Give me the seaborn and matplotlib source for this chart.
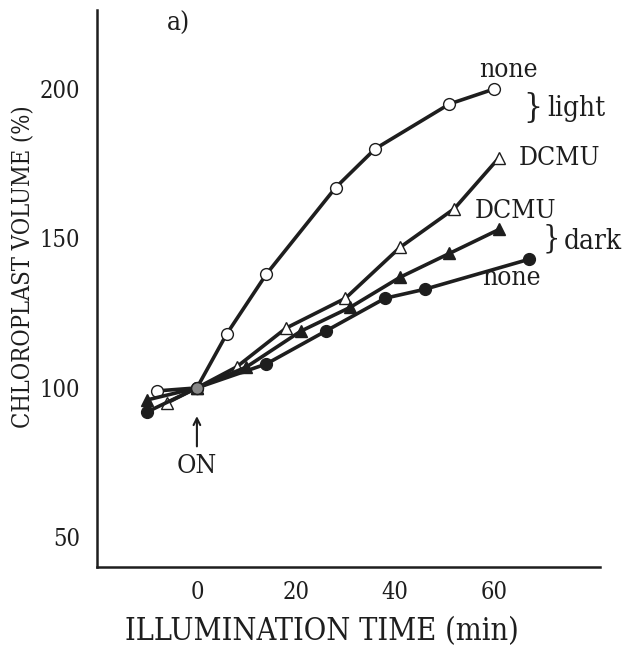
import matplotlib
matplotlib.use("Agg")
import matplotlib.pyplot as plt
import seaborn as sns
import pandas as pd

# ---- data ----
light_none_t = [-8, 0, 6, 14, 28, 36, 51, 60]
light_none_v = [99, 100, 118, 138, 167, 180, 195, 200]
light_dcmu_t = [-6, 0, 8, 18, 30, 41, 52, 61]
light_dcmu_v = [95, 100, 107, 120, 130, 147, 160, 177]
dark_dcmu_t = [-10, 0, 10, 21, 31, 41, 51, 61]
dark_dcmu_v = [96, 100, 107, 119, 127, 137, 145, 153]
dark_none_t = [-10, 0, 14, 26, 38, 46, 67]
dark_none_v = [92, 100, 108, 119, 130, 133, 143]

x_ticks = [0, 20, 40, 60]
x_minor = [10, 30, 50, 70]
y_ticks = [50, 100, 150, 200]

sns.set_theme(style="white")
plt.rcParams['font.family'] = ['DejaVu Serif']
plt.rcParams['font.stretch'] = 'condensed'

ink = "#1e1e1e"
fig = plt.figure(figsize=(6.25, 6.55), dpi=100)
ax = fig.add_axes([0.155, 0.134, 0.805, 0.851])

series = [
    (light_none_t, light_none_v, 'o', 'white'),
    (light_dcmu_t, light_dcmu_v, '^', 'white'),
    (dark_dcmu_t, dark_dcmu_v, '^', ink),
    (dark_none_t, dark_none_v, 'o', ink),
]
for t, v, m, fc in series:
    df = pd.DataFrame({'t': t, 'v': v})
    sns.lineplot(data=df, x='t', y='v', ax=ax, sort=False, color=ink,
                 linewidth=2.6, marker=m, markersize=8.5,
                 markerfacecolor=fc, markeredgecolor=ink, markeredgewidth=1.0)

# centre point: open circle with dot
ax.plot([0], [100], marker='o', markersize=8.5, markerfacecolor='#888888',
        markeredgecolor=ink, zorder=5)

ax.set_xlim(-20.2, 81.4)
ax.set_ylim(40, 226.5)
for s in ['top', 'right']:
    ax.spines[s].set_visible(False)
for s in ['left', 'bottom']:
    ax.spines[s].set_color(ink)
    ax.spines[s].set_linewidth(1.8)

ax.set_xticks(x_ticks)
ax.set_xticks(x_minor, minor=True)
ax.set_yticks(y_ticks)
ax.tick_params(axis='both', which='both', direction='in', length=7, width=1.5,
               colors=ink, labelsize=17, pad=10)
ax.tick_params(axis='y', pad=12)
ax.tick_params(axis='x', which='minor', labelbottom=False)

ax.set_xlabel("ILLUMINATION TIME (min)", fontsize=22, color=ink)
ax.xaxis.set_label_coords(0.447, -0.088)
ax.set_ylabel("CHLOROPLAST VOLUME (%)", fontsize=17, color=ink)
ax.yaxis.set_label_coords(-0.123, 0.539)

txt = dict(color=ink, fontsize=19)
ax.text(-3.8, 222, "a)", ha='center', va='center', **txt)
ax.text(63, 206.5, "none", ha='center', va='center', **txt)
ax.text(67.8, 193.5, "}", ha='center', va='center', color=ink, fontsize=24)
ax.text(70.7, 193.5, "light", ha='left', va='center', color=ink, fontsize=20)
ax.text(65, 177, "DCMU", ha='left', va='center', **txt)
ax.text(56, 159.5, "DCMU", ha='left', va='center', **txt)
ax.text(71.5, 150, "}", ha='center', va='center', color=ink, fontsize=22)
ax.text(74, 149, "dark", ha='left', va='center', color=ink, fontsize=20)
ax.text(63.5, 137, "none", ha='center', va='center', **txt)
ax.text(0, 74, "ON", ha='center', va='center', **txt)
ax.annotate("", xy=(0, 91.5), xytext=(0, 79.5),
            arrowprops=dict(arrowstyle='->', color=ink, lw=1.5))

fig.savefig("out.png", dpi=100)
